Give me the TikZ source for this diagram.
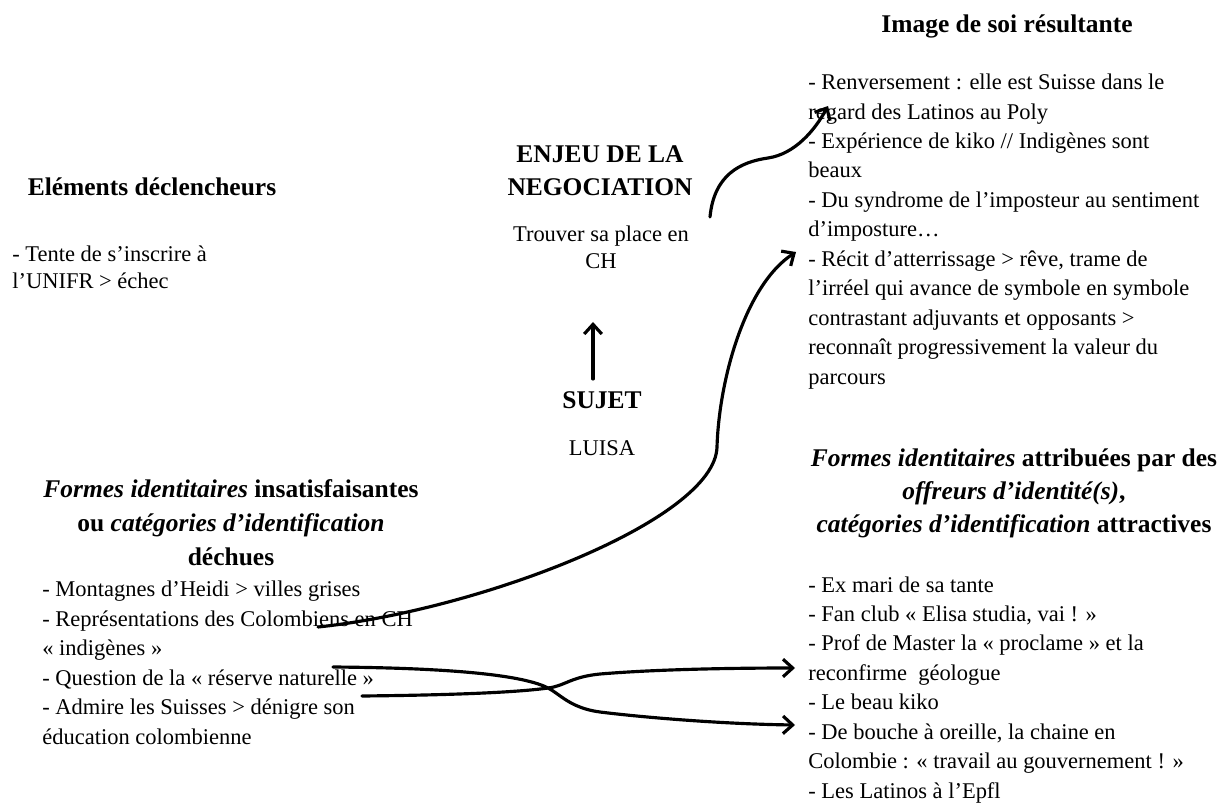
\documentclass[tikz,border=0pt]{standalone}
\usepackage{fontspec}
\setmainfont{Liberation Serif}
\usetikzlibrary{arrows.meta}
\tikzset{
  headtxt/.style={font=\fontsize{14.5}{19}\selectfont\bfseries, align=center, inner sep=0pt, anchor=base},
  midtxt/.style={font=\fontsize{12.8}{15.4}\selectfont, align=center, inner sep=0pt, anchor=base},
  bodytxt/.style={font=\fontsize{12.8}{16.75}\selectfont, align=left, inner sep=0pt, anchor=base west},
  link/.style={line width=1.8pt, line cap=round, -{Straight Barb[length=5.5pt,width=10pt]}}
}
\begin{document}
\begin{tikzpicture}[x=0.02cm, y=-0.02cm]
  \useasboundingbox (0,0) rectangle (1222,803);
  % trigger (multi-line nodes sit on their last baseline)
  \node[headtxt] (trighead) at (152,196) {Eléments déclencheurs};
  \node[bodytxt, font=\fontsize{12.8}{15.9}\selectfont] (triglist) at (12,289) {- Tente de s’inscrire à\\l’UNIFR > échec};
  % stake and subject
  \node[headtxt, font=\fontsize{14.5}{18.8}\selectfont\bfseries] (stakehead) at (600,196) {ENJEU DE LA\\NEGOCIATION};
  \node[midtxt] (staketext) at (601,269) {Trouver sa place en\\CH};
  \node[headtxt] (subjhead) at (602,408) {SUJET};
  \node[midtxt] (subjname) at (602,455) {LUISA};
  % resulting self image
  \node[headtxt] (reshead) at (1007,33) {Image de soi résultante};
  \node[bodytxt] (reslist) at (808,384) {- Renversement : elle est Suisse dans le\\regard des Latinos au Poly\\- Expérience de kiko // Indigènes sont\\beaux\\- Du syndrome de l’imposteur au sentiment\\d’imposture…\\- Récit d’atterrissage > rêve, trame de\\l’irréel qui avance de symbole en symbole\\contrastant adjuvants et opposants >\\reconnaît progressivement la valeur du\\parcours};
  % lost forms
  \node[headtxt, font=\fontsize{14.5}{19.35}\selectfont\bfseries] (losthead) at (231,565) {\textit{Formes identitaires} insatisfaisantes\\ou \textit{catégories d’identification}\\déchues};
  \node[bodytxt] (lostlist) at (42,744) {- Montagnes d’Heidi > villes grises\\- Représentations des Colombiens en CH\\« indigènes »\\- Question de la « réserve naturelle »\\- Admire les Suisses > dénigre son\\éducation colombienne};
  % offered forms
  \node[headtxt, font=\fontsize{14.5}{18.5}\selectfont\bfseries] (offerhead) at (1014,532) {\textit{Formes identitaires} attribuées par des\\\textit{offreurs d’identité(s)},\\\textit{catégories d’identification} attractives};
  \node[bodytxt] (offerlist) at (808,798) {- Ex mari de sa tante\\- Fan club « Elisa studia, vai ! »\\- Prof de Master la « proclame » et la\\reconfirme \ géologue\\- Le beau kiko\\- De bouche à oreille, la chaine en\\Colombie : « travail au gouvernement ! »\\- Les Latinos à l’Epfl};
  % connector ends
  \coordinate (upfrom) at (593,379);
  \coordinate (upto) at (593,322);
  \coordinate (stakeout) at (710,217);
  \coordinate (resin) at (828,106);
  \coordinate (lostout) at (318,627);
  \coordinate (resmid) at (796,252);
  \coordinate (lostq) at (333,667);
  \coordinate (losta) at (362,696);
  \coordinate (offerup) at (795,668);
  \coordinate (offerdown) at (795,725);
  % connectors
  \draw[link] (upfrom) -- (upto);
  \draw[link] (stakeout) .. controls (714,175) and (740,162) .. (768,158)
    .. controls (795,154) and (815,130) .. (resin);
  \draw[link] (lostout) .. controls (480,610) and (715,520) .. (717,447)
    .. controls (719,380) and (745,285) .. (resmid);
  \draw[link] (lostq) .. controls (460,668) and (525,676) .. (548,688)
    .. controls (560,694) and (570,708) .. (600,712)
    .. controls (640,717) and (720,724) .. (offerdown);
  \draw[link] (losta) .. controls (460,695) and (520,692) .. (548,688)
    .. controls (565,686) and (570,677) .. (600,674)
    .. controls (660,669) and (740,668) .. (offerup);
\end{tikzpicture}
\end{document}
